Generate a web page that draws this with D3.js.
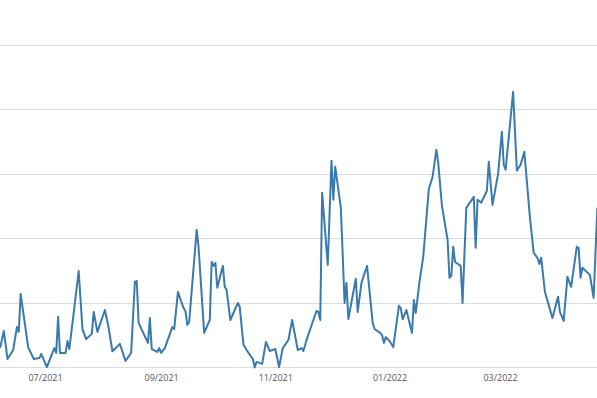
<!DOCTYPE html>
<html>
<head>
<meta charset="utf-8">
<script src="https://cdn.jsdelivr.net/npm/d3@7"></script>
<style>
  html, body { margin: 0; padding: 0; background: #fff; }
  svg { display: block; }
</style>
</head>
<body>
<svg id="chart" width="597" height="398"></svg>
<script>
const dates = [
  "2021-06-07","2021-06-09","2021-06-11","2021-06-14","2021-06-16","2021-06-17","2021-06-18","2021-06-22",
  "2021-06-25","2021-06-28","2021-06-29","2021-07-02","2021-07-06","2021-07-07","2021-07-08","2021-07-09",
  "2021-07-12","2021-07-13","2021-07-14","2021-07-19","2021-07-21","2021-07-23","2021-07-26","2021-07-27",
  "2021-07-29","2021-08-02","2021-08-04","2021-08-06","2021-08-10","2021-08-13","2021-08-16","2021-08-18",
  "2021-08-19","2021-08-20","2021-08-24","2021-08-25","2021-08-26","2021-08-27","2021-08-30","2021-08-31",
  "2021-09-01","2021-09-03","2021-09-07","2021-09-08","2021-09-10","2021-09-13","2021-09-14","2021-09-15",
  "2021-09-16","2021-09-20","2021-09-21","2021-09-24","2021-09-27","2021-09-28","2021-09-29","2021-09-30",
  "2021-10-01","2021-10-04","2021-10-05","2021-10-06","2021-10-08","2021-10-12","2021-10-13","2021-10-15",
  "2021-10-17","2021-10-20","2021-10-21","2021-10-22","2021-10-25","2021-10-27","2021-10-29","2021-11-01",
  "2021-11-03","2021-11-05","2021-11-08","2021-11-10","2021-11-13","2021-11-15","2021-11-16","2021-11-18",
  "2021-11-23","2021-11-24","2021-11-25","2021-11-26","2021-11-29","2021-12-01","2021-12-02","2021-12-03",
  "2021-12-06","2021-12-08","2021-12-09","2021-12-10","2021-12-14","2021-12-15","2021-12-17","2021-12-20",
  "2021-12-23","2021-12-24","2021-12-27","2021-12-28","2021-12-29","2021-12-30","2022-01-01","2022-01-03",
  "2022-01-06","2022-01-07","2022-01-08","2022-01-10","2022-01-13","2022-01-14","2022-01-15","2022-01-17",
  "2022-01-19","2022-01-22","2022-01-24","2022-01-26","2022-01-27","2022-01-29","2022-02-01","2022-02-02",
  "2022-02-03","2022-02-04","2022-02-05","2022-02-08","2022-02-09","2022-02-11","2022-02-15","2022-02-16",
  "2022-02-17","2022-02-19","2022-02-22","2022-02-23","2022-02-25","2022-02-28","2022-03-02","2022-03-03",
  "2022-03-04","2022-03-08","2022-03-10","2022-03-12","2022-03-14","2022-03-17","2022-03-19","2022-03-21",
  "2022-03-22","2022-03-23","2022-03-25","2022-03-27","2022-03-29","2022-04-01","2022-04-02","2022-04-04",
  "2022-04-06","2022-04-08","2022-04-11","2022-04-12","2022-04-13","2022-04-14","2022-04-18","2022-04-20",
  "2022-04-22"
];
const values = [
  6.0, 11.3, 2.6, 5.4, 12.5, 11.0, 22.8, 6.3,
  2.6, 2.9, 4.2, 0.1, 6.0, 4.5, 15.7, 4.5,
  4.5, 8.2, 5.7, 29.9, 11.9, 8.8, 10.4, 17.2,
  11.0, 17.8, 12.2, 5.0, 7.3, 2.0, 4.5, 26.5,
  26.8, 13.8, 8.8, 7.6, 15.3, 5.7, 4.8, 6.0,
  4.5, 6.0, 12.5, 11.9, 23.4, 18.4, 17.5, 13.2,
  14.1, 42.7, 37.4, 10.7, 14.7, 32.7, 31.5, 32.4,
  24.7, 31.5, 25.0, 24.0, 14.7, 20.0, 18.8, 7.0,
  5.1, 2.6, 0.0, 1.7, 1.1, 7.9, 5.1, 5.7,
  0.1, 6.0, 8.5, 14.7, 5.4, 6.0, 5.1, 9.1,
  17.5, 17.2, 14.7, 54.2, 31.8, 64.1, 52.0, 62.2,
  49.5, 20.0, 26.2, 15.0, 27.5, 17.2, 26.2, 31.5,
  13.8, 11.9, 10.7, 10.1, 7.6, 9.4, 8.2, 6.3,
  19.1, 18.4, 15.0, 17.8, 10.7, 20.9, 16.9, 26.5,
  34.3, 55.4, 59.1, 67.5, 63.5, 50.1, 39.6, 27.8,
  28.4, 37.4, 32.7, 31.5, 20.0, 49.5, 52.9, 37.1,
  52.0, 51.1, 54.8, 63.8, 50.4, 60.1, 73.1, 62.9,
  61.3, 85.5, 61.0, 62.9, 66.9, 46.4, 35.5, 34.0,
  32.1, 34.0, 23.4, 19.4, 15.3, 21.9, 17.2, 14.4,
  28.1, 25.0, 37.4, 37.1, 27.8, 30.9, 28.7, 21.6,
  49.5
];
const yTicks = [0, 20, 40, 60, 80, 100];
const tickFormat = "%m/%Y";

const svg = d3.select("#chart");
const W = 597;
const parse = d3.utcParse("%Y-%m-%d");
const data = dates.map((d, i) => ({ date: parse(d), value: values[i] }));

const x = d3.scaleUtc()
  .domain([parse("2021-07-01"), parse("2022-03-01")])
  .range([45, 500]);
const y = d3.scaleLinear().domain([0, 100]).range([367.4, 45]);

// gridlines
svg.append("g").selectAll("line").data(yTicks).join("line")
  .attr("x1", 0).attr("x2", W)
  .attr("y1", d => Math.round(y(d)) + 0.5).attr("y2", d => Math.round(y(d)) + 0.5)
  .attr("stroke", "#dcdcdc").attr("stroke-width", 1);

// x axis
const xAxis = d3.axisBottom(x)
  .ticks(d3.utcMonth.every(2))
  .tickFormat(d3.utcFormat(tickFormat))
  .tickSize(0)
  .tickPadding(7);
const gx = svg.append("g").attr("transform", `translate(0,${y(0)})`).call(xAxis);
gx.select(".domain").remove();
gx.selectAll("text")
  .attr("font-family", "'Open Sans', sans-serif")
  .attr("font-size", 9)
  .attr("fill", "#555");

// line
const line = d3.line().x(d => x(d.date)).y(d => y(d.value));
svg.append("path").datum(data)
  .attr("d", line)
  .attr("fill", "none")
  .attr("stroke", "#3a7aad")
  .attr("stroke-width", 2)
  .attr("stroke-linejoin", "round");
</script>
</body>
</html>
